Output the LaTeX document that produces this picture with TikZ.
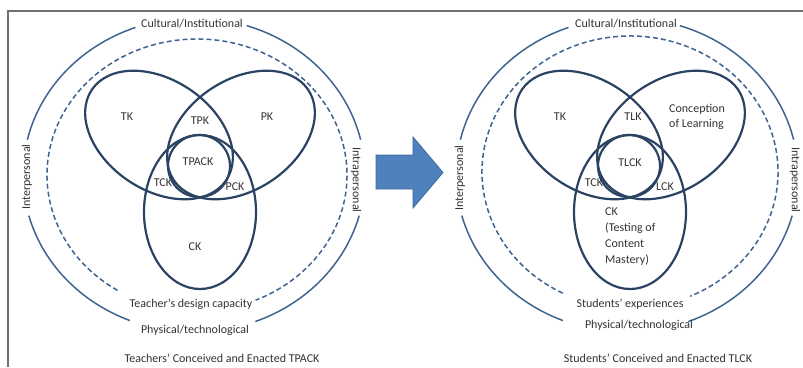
\documentclass[tikz,border=0pt]{standalone}
\usepackage{fontspec}
\setmainfont{Carlito}
\usetikzlibrary{calc}
\definecolor{vennline}{HTML}{2B4363}
\definecolor{ringline}{HTML}{3F6391}
\definecolor{arrowblue}{HTML}{4F81BD}
\definecolor{arrowedge}{HTML}{3C6A9E}
\definecolor{labeltext}{HTML}{333333}
\definecolor{framegray}{HTML}{707070}
\tikzset{
  venn/.style={draw=vennline, line width=2.2pt},
  ring/.style={draw=ringline, line width=1.5pt},
  dashring/.style={ring, dash pattern=on 5pt off 3pt},
  lbl/.style={text=labeltext, inner sep=0pt, font=\fontsize{12}{15}\selectfont},
}
\begin{document}
\begin{tikzpicture}[x=1pt,y=-1pt]
    \useasboundingbox (0,0) rectangle (803,367);
    \draw[framegray, line width=1.5pt] (8,367) -- (8,11) -- (803,11);
    % outer rings, broken where the labels sit
    \foreach \cx in {194,627}{
      \foreach \s/\e in {193/250, 112/165, -72/-13, 15/69}{
        \draw[ring] (\cx,175) ++(\s:171 and 157)
          arc[start angle=\s, end angle=\e, x radius=171, y radius=157];
      }
    }
    \draw[dashring] (197,175) ++(122:150 and 136)
      arc[start angle=122, end angle=427, x radius=150, y radius=136];
    \draw[dashring] (630,172) ++(117:148 and 136)
      arc[start angle=117, end angle=426, x radius=148, y radius=136];
    % the three knowledge ellipses and the centre circle
    \foreach \vx in {200,630}{
      \coordinate (tkc)  at ({\vx-41},135);
      \coordinate (pkc)  at ({\vx+41},135);
      \coordinate (ckc)  at (\vx,212);
      \coordinate (mid)  at ({\vx-1},166);
      \draw[venn, rotate around={-34:(tkc)}] (tkc) ellipse[x radius=81, y radius=55];
      \draw[venn, rotate around={34:(pkc)}]  (pkc) ellipse[x radius=81, y radius=55];
      \draw[venn] (ckc) ellipse[x radius=56, y radius=77];
      \draw[venn] (mid) circle[radius=31];
    }
    % arrow between the two frameworks
    \fill[arrowblue, draw=arrowedge, line width=0.8pt]
      (376,155) -- (413,155) -- (413,137) -- (443,172.5)
      -- (413,208) -- (413,189) -- (376,189) -- cycle;
    % left labels
    \node[lbl] (culL) at (192,24) {Cultural/Institutional};
    \node[lbl] (phyL) at (195,330) {Physical/technological};
    \node[lbl] (desL) at (191,304) {Teacher’s design capacity};
    \node[lbl, rotate=90]  (intL) at (27,177) {Interpersonal};
    \node[lbl, rotate=-90] (itrL) at (356,180) {Intrapersonal};
    \node[lbl] (tkL)   at (127,117) {TK};
    \node[lbl] (tpkL)  at (200,121) {TPK};
    \node[lbl] (pkL)   at (267,117) {PK};
    \node[lbl] (tpackL) at (198,162) {TPACK};
    \node[lbl] (tckL)  at (163,183) {TCK};
    \node[lbl] (pckL)  at (235,187) {PCK};
    \node[lbl] (ckL)   at (195,247) {CK};
    \node[lbl] (capL)  at (222,358) {Teachers’ Conceived and Enacted TPACK};
    % right labels
    \node[lbl] (culR) at (626,24) {Cultural/Institutional};
    \node[lbl] (phyR) at (639,325) {Physical/technological};
    \node[lbl] (expR) at (630,304) {Students’ experiences};
    \node[lbl, rotate=90]  (intR) at (460,178) {Interpersonal};
    \node[lbl, rotate=-90] (itrR) at (795,180) {Intrapersonal};
    \node[lbl] (tkR)   at (560,117) {TK};
    \node[lbl] (tlkR)  at (633,117) {TLK};
    \node[lbl, align=left] (conR) at (697,117) {Conception\\of Learning};
    \node[lbl] (tlckR) at (630,163) {TLCK};
    \node[lbl] (tckR)  at (594,183) {TCK};
    \node[lbl] (lckR)  at (665,187) {LCK};
    \node[lbl, align=left, anchor=west, font=\fontsize{12}{16}\selectfont] (ckR) at (605,237)
      {CK\\(Testing of\\Content\\Mastery)};
    \node[lbl] (capR)  at (658,358) {Students’ Conceived and Enacted TLCK};
\end{tikzpicture}
\end{document}
